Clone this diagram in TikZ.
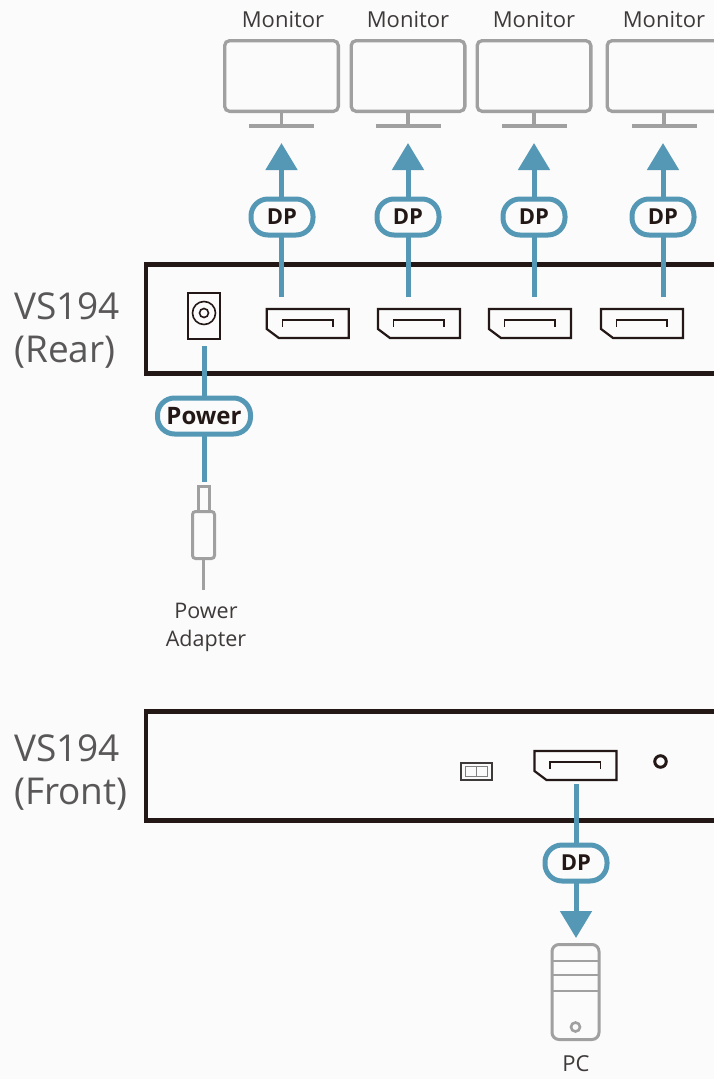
\documentclass[tikz,border=0pt]{standalone}
\usepackage{fontspec}
\setmainfont{Open Sans}
\usepackage{xcolor}
\usetikzlibrary{arrows.meta,positioning}
\definecolor{pagebg}{HTML}{FBFBFB}
\definecolor{cable}{HTML}{5498B6}
\definecolor{ink}{HTML}{231815}
\definecolor{iconc}{HTML}{A0A0A0}
\definecolor{titlec}{HTML}{595757}
\definecolor{labc}{HTML}{3E3A39}
% display port outline, corner cut at the lower left
\newcommand{\dpport}[3]{%
  \node[minimum width=82pt,minimum height=29pt,inner sep=0pt,outer sep=0pt] (#1) at (#2,#3) {};
  \draw[portline] (#2-41,#3-14.5) -- ++(82,0) -- ++(0,29) -- ++(-70,0) -- ++(-12,-9) -- cycle;
  \draw[ink,line width=1.5pt] (#2-25.5,#3+3) |- ++(50.5,-6.5) -- ++(0,6.5);
}
\begin{document}
\begin{tikzpicture}[x=1pt,y=-1pt]
    %styles
    \tikzstyle{screen}=[rectangle,draw=iconc,line width=3.3pt,rounded corners=5pt,minimum width=113.7pt,minimum height=70.7pt,inner sep=0pt,outer sep=0pt]
    \tikzstyle{foot}=[rectangle,fill=iconc,minimum width=65pt,minimum height=3.6pt,inner sep=0pt,outer sep=0pt]
    \tikzstyle{grayline}=[draw=iconc,line width=3.3pt]
    \tikzstyle{pill}=[rectangle,rounded corners=17pt,draw=cable,line width=5pt,fill=pagebg,minimum height=36pt,text=ink,font=\bfseries\fontsize{22}{22}\selectfont,inner sep=0pt,outer sep=0pt]
    \tikzstyle{lab}=[text=labc,font=\fontsize{22}{22}\selectfont,inner sep=0pt]
    \tikzstyle{title}=[text=titlec,font=\fontsize{37}{43}\selectfont,inner sep=0pt,align=left,anchor=west]
    \tikzstyle{panel}=[rectangle,draw=ink,line width=4.6pt,minimum width=700pt,minimum height=109pt,inner sep=0pt,outer sep=0pt,anchor=west]
    \tikzstyle{portline}=[draw=ink,line width=2.2pt,line join=miter]
    \tikzstyle{link}=[draw=cable,line width=5pt]
    \tikzstyle{linkto}=[link,-{Triangle[length=27pt,width=31pt]}]
    \clip (0,0) rectangle (714,1079);
    \fill[pagebg] (0,0) rectangle (714,1079);
    %nodes
    \node[lab] (lab1) at (283,19.5) {Monitor};
    \node[lab] (lab2) at (408,19.5) {Monitor};
    \node[lab] (lab3) at (534,19.5) {Monitor};
    \node[lab] (lab4) at (664,19.5) {Monitor};
    \node[screen] (mon1) at (281.5,76) {};
    \node[screen] (mon2) at (408,76) {};
    \node[screen] (mon3) at (534,76) {};
    \node[screen] (mon4) at (664,76) {};
    \node[foot] (foot1) at (281.5,125.8) {};
    \node[foot] (foot2) at (408,125.8) {};
    \node[foot] (foot3) at (534,125.8) {};
    \node[foot] (foot4) at (664,125.8) {};

    \node[title] (rear) at (14,330.5) {VS194\\(Rear)};
    \node[title] (front) at (14,772.5) {VS194\\(Front)};
    \node[panel] (rearbox) at (146,319) {};
    \node[panel] (frontbox) at (146,766) {};

    \dpport{dp1}{307.8}{323.5}
    \dpport{dp2}{419}{323.5}
    \dpport{dp3}{530}{323.5}
    \dpport{dp4}{642}{323.5}
    \dpport{dp5}{575.5}{765.5}

    \node[rectangle,draw=ink,line width=2.2pt,minimum width=32pt,minimum height=46pt,inner sep=0pt,outer sep=0pt] (jack) at (204,316) {};
    \node[circle,draw=ink,line width=1.6pt,minimum size=23pt,inner sep=0pt] (jackout) at (204,313) {};
    \node[circle,draw=ink,line width=1.6pt,minimum size=9pt,inner sep=0pt] (jackin) at (204,313) {};

    \node[rectangle,draw=labc,line width=1.8pt,minimum width=31pt,minimum height=17pt,inner sep=0pt] (switch) at (476.3,771.5) {};
    \node[rectangle,draw=iconc!80!black,line width=1.5pt,minimum width=22pt,minimum height=10pt,inner sep=0pt,outer sep=0pt] (slide) at (476.3,771.5) {};
    \node[circle,draw=ink,line width=3pt,minimum size=11.5pt,inner sep=0pt] (led) at (660.5,761.5) {};

    \node[pill,minimum width=62pt] (pill1) at (282,217) {DP};
    \node[pill,minimum width=62pt] (pill2) at (408,217) {DP};
    \node[pill,minimum width=62pt] (pill3) at (534,217) {DP};
    \node[pill,minimum width=62pt] (pill4) at (663,217) {DP};
    \node[pill,minimum width=93pt,font=\bfseries\fontsize{24}{24}\selectfont] (pill5) at (204,416) {Power};
    \node[pill,minimum width=62pt] (pill6) at (576,863) {DP};

    \node[rectangle,draw=iconc,line width=3pt,minimum width=11pt,minimum height=26pt,inner sep=0pt,outer sep=0pt] (plugtip) at (203.5,499) {};
    \node[rectangle,draw=iconc,fill=pagebg,line width=3pt,rounded corners=3pt,minimum width=22pt,minimum height=47pt,inner sep=0pt,outer sep=0pt] (plug) at (203.5,535) {};
    \coordinate (wire) at (203.5,590);
    \node[lab,align=center,font=\fontsize{21.5}{28}\selectfont] (adapter) at (206,627.5) {Power\\Adapter};

    \node[rectangle,draw=iconc,line width=3pt,rounded corners=7pt,minimum width=47pt,minimum height=95pt,inner sep=0pt,outer sep=0pt] (pc) at (575.5,992) {};
    \node[circle,draw=iconc,line width=2.6pt,minimum size=9pt,inner sep=0pt] (pcbtn) at (575.5,1027) {};
    \node[lab] (pclab) at (576,1064) {PC};

    \coordinate (out1) at (281.5,297);
    \coordinate (out2) at (408,297);
    \coordinate (out3) at (534,297);
    \coordinate (out4) at (663,297);
    \coordinate (tip1) at (281.5,143);
    \coordinate (tip2) at (408,143);
    \coordinate (tip3) at (534,143);
    \coordinate (tip4) at (663,143);
    \coordinate (pwr) at (204,346);
    \coordinate (pwrend) at (204,482);
    \coordinate (out6) at (576,784);
    \coordinate (tip6) at (576,938);

    %arrows
    \draw[grayline] (mon1)--(foot1);
    \draw[grayline] (mon2)--(foot2);
    \draw[grayline] (mon3)--(foot3);
    \draw[grayline] (mon4)--(foot4);
    \draw[grayline] (plug.south)--(wire);
    \draw[draw=iconc,line width=2.6pt] (pc.west |- 0,961)--(pc.east |- 0,961);
    \draw[draw=iconc,line width=2.6pt] (pc.west |- 0,975)--(pc.east |- 0,975);
    \draw[draw=iconc,line width=2.6pt] (pc.west |- 0,991)--(pc.east |- 0,991);
    \draw[draw=iconc!80!black,line width=1.5pt] (slide.north)--(slide.south);

    \draw[link] (out1)--(pill1.south -| out1);
    \draw[link] (out2)--(pill2);
    \draw[link] (out3)--(pill3);
    \draw[link] (out4)--(pill4);
    \draw[linkto] (pill1.north -| tip1)--(tip1);
    \draw[linkto] (pill2)--(tip2);
    \draw[linkto] (pill3)--(tip3);
    \draw[linkto] (pill4)--(tip4);
    \draw[link] (pwr)--(pill5);
    \draw[link] (pill5)--(pwrend);
    \draw[link] (out6)--(pill6);
    \draw[linkto] (pill6)--(tip6);
\end{tikzpicture}
\end{document}
